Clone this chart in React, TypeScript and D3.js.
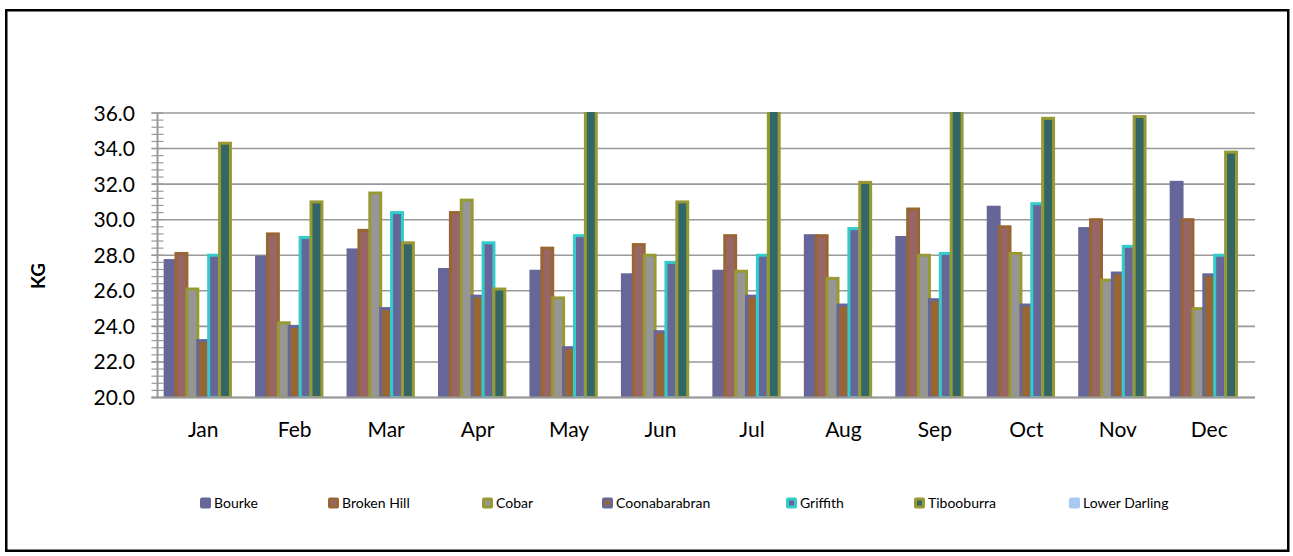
import React from "react";
import * as d3 from "d3";

const months = ["Jan", "Feb", "Mar", "Apr", "May", "Jun", "Jul", "Aug", "Sep", "Oct", "Nov", "Dec"];
const seriesNames = ["Bourke", "Broken Hill", "Cobar", "Coonabarabran", "Griffith", "Tibooburra", "Lower Darling"];

const bourke = [27.7, 27.9, 28.3, 27.2, 27.1, 26.9, 27.1, 29.1, 29.0, 30.7, 29.5, 32.1];
const brokenHill = [28.1, 29.2, 29.4, 30.4, 28.4, 28.6, 29.1, 29.1, 30.6, 29.6, 30.0, 30.0];
const cobar = [26.1, 24.2, 31.5, 31.1, 25.6, 28.0, 27.1, 26.7, 28.0, 28.1, 26.6, 25.0];
const coonabarabran = [23.2, 24.0, 25.0, 25.7, 22.8, 23.7, 25.7, 25.2, 25.5, 25.2, 27.0, 26.9];
const griffith = [28.0, 29.0, 30.4, 28.7, 29.1, 27.6, 28.0, 29.5, 28.1, 30.9, 28.5, 28.0];
const tibooburra = [34.3, 31.0, 28.7, 26.1, 37.5, 31.0, 37.5, 32.1, 37.5, 35.7, 35.8, 33.8];
const lowerDarling: (number | null)[] = [null, null, null, null, null, null, null, null, null, null, null, null];

const yTicks = [20, 22, 24, 26, 28, 30, 32, 34, 36];

const seriesValues = [bourke, brokenHill, cobar, coonabarabran, griffith, tibooburra, lowerDarling];
const fills = ["#666699", "#996666", "#969696", "#996633", "#666699", "#336666", "#A6CAF0"];
const strokes = ["#666699", "#996633", "#999933", "#666699", "#33CCCC", "#999933", "#A6CAF0"];
const legendX = [200, 328, 482, 602, 786, 914, 1069];

const W = 1293;
const H = 556;
const plotL = 157.5;
const plotR = 1255;
const plotT = 113;
const plotB = 397.5;
const FONT = "Lato, 'Open Sans', sans-serif";

export default function App() {
  const x0 = d3.scaleBand<string>().domain(months).range([plotL, plotR]).paddingInner(0).paddingOuter(0);
  const x1 = d3
    .scaleBand<string>()
    .domain(seriesNames)
    .range([0, x0.bandwidth()])
    .paddingInner(0)
    .paddingOuter(0.7);
  const y = d3.scaleLinear().domain([20, 36]).range([plotB, plotT]);
  const minorTicks = d3.range(20, 36.001, 0.4);

  return (
    <svg
      width={W}
      height={H}
      style={{ position: "absolute", left: 0, top: 0, background: "#fff" }}
      xmlns="http://www.w3.org/2000/svg"
    >
      <defs>
        <clipPath id="plotClip">
          <rect x={plotL - 5} y={plotT - 1} width={plotR - plotL + 10} height={plotB - plotT + 1} />
        </clipPath>
      </defs>
      <rect x={0} y={0} width={W} height={H} fill="#fff" />
      <rect x={6.25} y={10.25} width={1282} height={540.5} fill="#fff" stroke="#000" strokeWidth={2.5} />

      {/* gridlines */}
      {yTicks.map((t) => (
        <line key={"g" + t} x1={plotL - 6} x2={plotR} y1={y(t)} y2={y(t)} stroke="#999" strokeWidth={1.6} />
      ))}
      {/* minor ticks */}
      {minorTicks.map((t, i) => (
        <line key={"m" + i} x1={plotL - 6} x2={plotL + 6} y1={y(t)} y2={y(t)} stroke="#999" strokeWidth={1.2} />
      ))}

      {/* bars */}
      <g clipPath="url(#plotClip)">
        {seriesValues.map((vals, si) =>
          months.map((m, mi) => {
            const v = vals[mi];
            if (v == null) return null;
            const bx = (x0(m) as number) + (x1(seriesNames[si]) as number);
            const top = y(v);
            return (
              <rect
                key={si + "-" + mi}
                x={bx}
                y={top}
                width={x1.bandwidth()}
                height={plotB - top}
                fill={fills[si]}
                stroke={strokes[si]}
                strokeWidth={3}
              />
            );
          })
        )}
      </g>

      {/* axes */}
      <line x1={plotL} x2={plotL} y1={plotT} y2={plotB} stroke="#999" strokeWidth={2} />
      <line x1={plotL - 6} x2={plotR} y1={plotB} y2={plotB} stroke="#999" strokeWidth={2} />

      {/* y tick labels */}
      {yTicks.map((t) => (
        <text
          key={"yl" + t}
          x={135}
          y={y(t) + 7.5}
          textAnchor="end"
          fontFamily={FONT}
          fontSize={21}
          fill="#000"
        >
          {t.toFixed(1)}
        </text>
      ))}

      {/* x labels */}
      {months.map((m) => (
        <text
          key={"xl" + m}
          x={(x0(m) as number) + x0.bandwidth() / 2}
          y={437}
          textAnchor="middle"
          fontFamily={FONT}
          fontSize={21}
          fill="#000"
        >
          {m}
        </text>
      ))}

      {/* y axis title */}
      <text
        transform="translate(45,276) rotate(-90)"
        textAnchor="middle"
        fontFamily={FONT}
        fontSize={19}
        fontWeight="bold"
        fill="#000"
      >
        KG
      </text>

      {/* legend */}
      {seriesNames.map((name, i) => {
        const lx = legendX[i];
        const bordered = strokes[i] !== fills[i];
        return (
          <g key={"lg" + name}>
            <rect x={lx} y={497.5} width={11} height={11} rx={2} fill={strokes[i]} />
            {bordered && <rect x={lx + 3} y={500.5} width={5} height={5} fill={fills[i]} />}
            <text x={lx + 14} y={508} fontFamily={FONT} fontSize={14} fill="#000">
              {name}
            </text>
          </g>
        );
      })}
    </svg>
  );
}
